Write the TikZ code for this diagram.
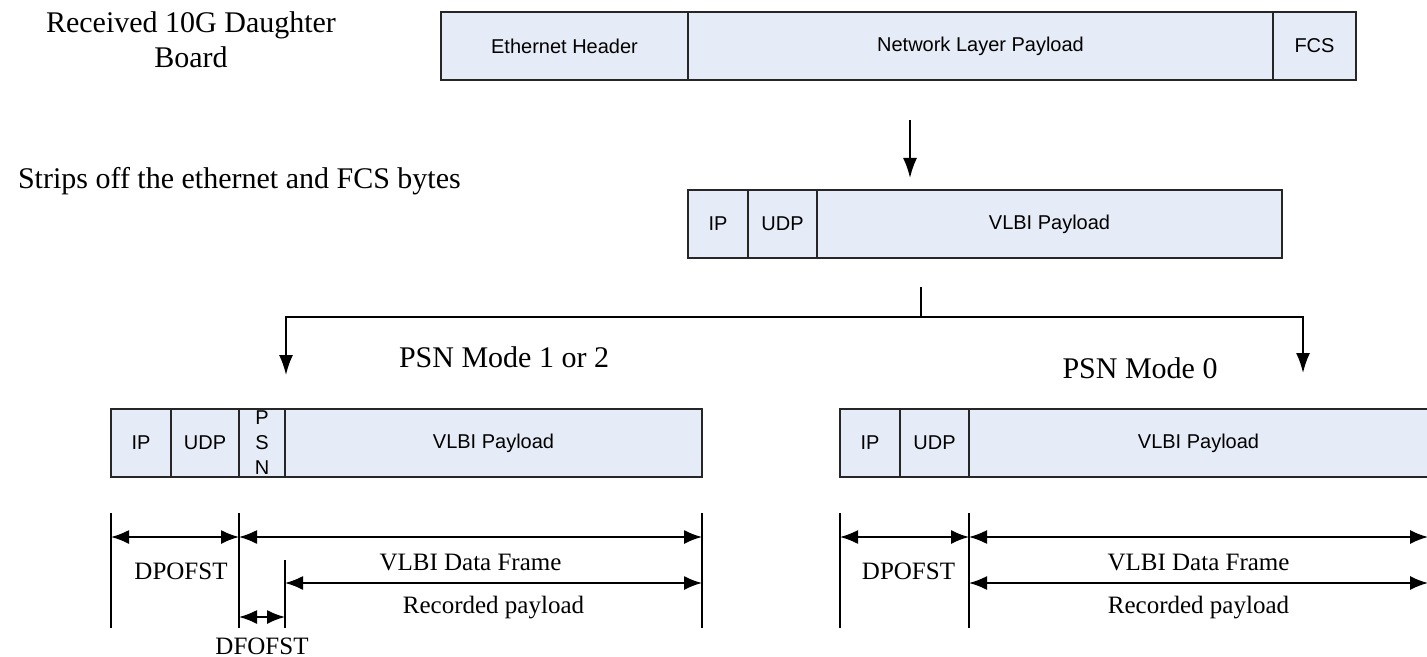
\documentclass[tikz,border=0pt]{standalone}
\usepackage{fontspec}
\setmainfont{Liberation Serif}
\setsansfont{Liberation Sans}
\usetikzlibrary{positioning,arrows.meta}
\definecolor{cellfill}{RGB}{230,236,247}
\tikzset{cell/.style={draw=black!85,line width=1pt,fill=cellfill,minimum height=34pt,inner sep=0pt,outer sep=0pt,
           font=\sffamily\fontsize{10}{12.5}\selectfont,align=center},
         line/.style={-{Latex[length=10pt,width=7pt]},line width=0.9pt},
         dim/.style={{Latex[length=9pt,width=7pt]}-{Latex[length=9pt,width=7pt]},line width=0.8pt},
         tick/.style={line width=0.8pt},
         lbl/.style={font=\fontsize{15}{17.5}\selectfont,align=center},
         dimlbl/.style={font=\fontsize{12.5}{15}\selectfont}
}

\begin{document}
\begin{tikzpicture}[x=0.5pt,y=-0.5pt]
  \useasboundingbox (0,0) rectangle (1427,657);
  % frame as received
  \node[cell, minimum width=123.5pt, anchor=north west] (eth) at (441,12) {Ethernet Header};
  \node[cell, minimum width=292.5pt, right=0pt of eth] (net) {Network Layer Payload};
  \node[cell, minimum width=41.5pt, right=0pt of net] (fcs) {FCS};
  % stripped frame
  \node[cell, minimum width=30pt, anchor=north west] (ip) at (688,190) {IP};
  \node[cell, minimum width=34.5pt, right=0pt of ip] (udp) {UDP};
  \node[cell, minimum width=232.5pt, right=0pt of udp] (pay) {VLBI Payload};
  % PSN mode 1 or 2
  \node[cell, minimum width=30pt, anchor=north west] (lip) at (111,409) {IP};
  \node[cell, minimum width=34pt, right=0pt of lip] (ludp) {UDP};
  \node[cell, minimum width=23pt, right=0pt of ludp] (lpsn) {P\\S\\N};
  \node[cell, minimum width=208.5pt, right=0pt of lpsn] (lpay) {VLBI Payload};
  % PSN mode 0
  \node[cell, minimum width=30pt, anchor=north west] (rip) at (840,409) {IP};
  \node[cell, minimum width=34.5pt, right=0pt of rip] (rudp) {UDP};
  \node[cell, minimum width=229.5pt, right=0pt of rudp] (rpay) {VLBI Payload};

  \node[lbl] (rx) at (191,40) {Received 10G Daughter\\Board};
  \node[lbl, anchor=west] (strip) at (11,181) {Strips off the ethernet and FCS bytes};
  \node[lbl] (m12) at (504,357) {PSN Mode 1 or 2};
  \node[lbl] (m0) at (1140,368) {PSN Mode 0};

  \coordinate (s0) at (910,120);
  \coordinate (s1) at (910,178);
  \coordinate (b0) at (921,287);
  \coordinate (b1) at (921,317);
  \coordinate (dl) at (286,375);
  \coordinate (dr) at (1303,373);
  \draw[line] (s0) -- (s1);
  \draw[line width=0.9pt] (b0) -- (b1);
  \draw[line] (b1) -| (dl);
  \draw[line] (b1) -| (dr);

  % dimension lines
  \coordinate (ytop) at (0,513);
  \coordinate (ymid) at (0,560);
  \coordinate (ybot) at (0,628);
  \coordinate (ya) at (0,537);
  \coordinate (yb) at (0,583);
  \coordinate (yc) at (0,617);
  \foreach \n in {lip.south west, ludp.south east, lpay.south east, rip.south west, rudp.south east}
    \draw[tick] (\n |- ytop) -- (\n |- ybot);
  \draw[tick] (lpay.south west |- ymid) -- (lpay.south west |- ybot);

  \draw[dim] (lip.south west |- ya) -- node[dimlbl, xshift=3pt, yshift=-17pt] {DPOFST} (ludp.south east |- ya);
  \draw[dim] (ludp.south east |- ya) -- node[dimlbl, yshift=-12.5pt] {VLBI Data Frame} (lpay.south east |- ya);
  \draw[dim] (lpay.south west |- yb) -- node[dimlbl, yshift=-12.5pt] {Recorded payload} (lpay.south east |- yb);
  \draw[dim] (ludp.south east |- yc) -- node[dimlbl, yshift=-14.5pt] {DFOFST} (lpay.south west |- yc);

  \draw[dim] (rip.south west |- ya) -- node[dimlbl, xshift=2pt, yshift=-17pt] {DPOFST} (rudp.south east |- ya);
  \draw[dim] (rudp.south east |- ya) -- node[dimlbl, yshift=-12.5pt] {VLBI Data Frame} (rpay.south east |- ya);
  \draw[dim] (rudp.south east |- yb) -- node[dimlbl, yshift=-12.5pt] {Recorded payload} (rpay.south east |- yb);
\end{tikzpicture}
\end{document}
